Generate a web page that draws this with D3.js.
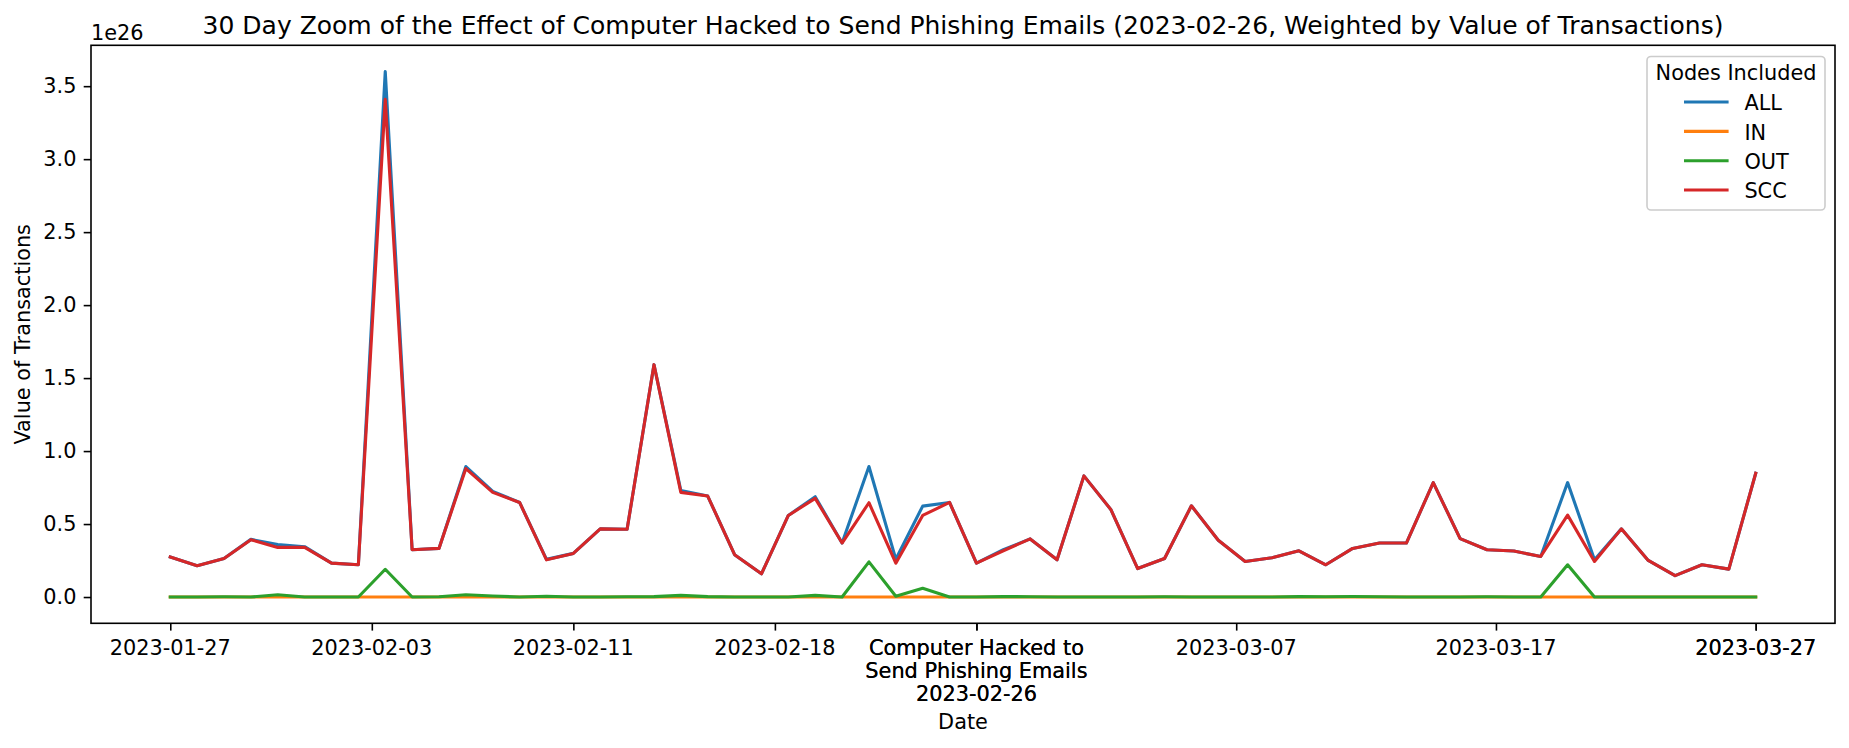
<!DOCTYPE html>
<html><head><meta charset="utf-8">
<script src="https://cdn.jsdelivr.net/npm/d3@7"></script>
<style>
body{margin:0;background:#fff}
text{font-family:"DejaVu Sans",sans-serif;fill:#000}
</style>
</head><body><svg id="chart" width="1849" height="748"></svg>
<script>
// ---- data (values in units of 1e26) ----
const dates = ["2023-01-27","2023-01-28","2023-01-29","2023-01-30","2023-01-31","2023-02-01","2023-02-02","2023-02-03","2023-02-04","2023-02-05",
"2023-02-06","2023-02-07","2023-02-08","2023-02-09","2023-02-10","2023-02-11","2023-02-12","2023-02-13","2023-02-14","2023-02-15",
"2023-02-16","2023-02-17","2023-02-18","2023-02-19","2023-02-20","2023-02-21","2023-02-22","2023-02-23","2023-02-24","2023-02-25",
"2023-02-26","2023-02-27","2023-02-28","2023-03-01","2023-03-02","2023-03-03","2023-03-04","2023-03-05","2023-03-06","2023-03-07",
"2023-03-08","2023-03-09","2023-03-10","2023-03-11","2023-03-12","2023-03-13","2023-03-14","2023-03-15","2023-03-16","2023-03-17",
"2023-03-18","2023-03-19","2023-03-20","2023-03-21","2023-03-22","2023-03-23","2023-03-24","2023-03-25","2023-03-26","2023-03-27"];
const seriesNames = ["ALL","IN","OUT","SCC"];
const seriesColors = ["#1f77b4","#ff7f0e","#2ca02c","#d62728"];
const allValues = [0.274,0.214,0.264,0.395,0.359,0.345,0.232,0.221,3.600,0.324,
0.333,0.894,0.724,0.648,0.258,0.299,0.467,0.464,1.592,0.729,
0.692,0.290,0.159,0.559,0.687,0.370,0.894,0.260,0.623,0.648,
0.232,0.324,0.398,0.255,0.830,0.600,0.195,0.264,0.625,0.389,
0.244,0.269,0.317,0.221,0.333,0.370,0.370,0.784,0.400,0.324,
0.315,0.278,0.784,0.255,0.467,0.251,0.147,0.221,0.191,0.848];
const inValues = [0,0,0,0,0,0,0,0,0,0, 0,0,0,0,0,0,0,0,0,0, 0,0,0,0,0,0,0,0,0,0,
0,0,0,0,0,0,0,0,0,0, 0,0,0,0,0,0,0,0,0,0, 0,0,0,0,0,0,0,0,0,0];
const outValues = [0,0,0.002,0,0.016,0,0,0,0.190,0,
0.002,0.016,0.007,0,0.005,0,0,0.002,0.003,0.011,
0.003,0,0,0,0.011,0,0.241,0.005,0.060,0,
0,0.003,0.002,0,0,0,0,0.002,0,0,
0,0,0.003,0.002,0.004,0.002,0,0,0,0.002,
0,0,0.221,0,0,0,0,0,0,0];
const sccValues = [0.274,0.214,0.264,0.393,0.340,0.340,0.232,0.221,3.410,0.324,
0.333,0.880,0.717,0.648,0.255,0.299,0.467,0.464,1.592,0.717,
0.692,0.290,0.159,0.559,0.676,0.370,0.646,0.232,0.559,0.648,
0.232,0.317,0.398,0.255,0.830,0.600,0.195,0.264,0.625,0.389,
0.244,0.269,0.317,0.221,0.333,0.370,0.370,0.784,0.400,0.324,
0.315,0.278,0.561,0.244,0.467,0.251,0.147,0.221,0.191,0.848];
const yTickValues = [0,0.5,1.0,1.5,2.0,2.5,3.0,3.5];
const xTickPositions = [0,7.5,15,22.5,30,30,39.667,49.333,59,59];
const xTickLabels = ["2023-01-27","2023-02-03","2023-02-11","2023-02-18",
"Computer Hacked to\nSend Phishing Emails\n2023-02-26","Computer Hacked to\nSend Phishing Emails\n2023-02-26",
"2023-03-07","2023-03-17","2023-03-27","2023-03-27"];
const titleText = "30 Day Zoom of the Effect of Computer Hacked to Send Phishing Emails (2023-02-26, Weighted by Value of Transactions)";

// ---- layout ----
const svg = d3.select("#chart");
const L = 91, R = 1835, T = 45.3, B = 623.3;
const fs = 20.83;
const series = [allValues,inValues,outValues,sccValues];

const n = dates.length;
const xPad = (n-1)*0.05;
const x = d3.scaleLinear().domain([-xPad, n-1+xPad]).range([L,R]);
const yMin = d3.min(series.flat()), yMax = d3.max(series.flat());
const yPad = (yMax-yMin)*0.05;
const y = d3.scaleLinear().domain([yMin-yPad, yMax+yPad]).range([B,T]);

// lines
const line = d3.line().x((d,i)=>x(i)).y(d=>y(d));
series.forEach((s,k)=>{
  svg.append("path").datum(s).attr("d",line)
    .attr("fill","none").attr("stroke",seriesColors[k]).attr("stroke-width",3.1)
    .attr("stroke-linejoin","round").attr("stroke-linecap","square");
});

// y axis
const yAxis = svg.append("g").attr("transform",`translate(${L},0)`)
  .call(d3.axisLeft(y).tickValues(yTickValues).tickSize(7.3).tickPadding(7.3).tickFormat(d3.format(".1f")));
yAxis.select(".domain").remove();
yAxis.selectAll(".tick line").attr("stroke","#000").attr("stroke-width",1.6);
yAxis.selectAll(".tick text").attr("font-size",fs).attr("font-family","DejaVu Sans").attr("fill","#000");

// x axis
const xAxis = svg.append("g").attr("transform",`translate(0,${B})`)
  .call(d3.axisBottom(x).tickValues(xTickPositions).tickSize(7.3).tickFormat(""));
xAxis.select(".domain").remove();
xAxis.selectAll(".tick line").attr("stroke","#000").attr("stroke-width",1.6);
xAxis.selectAll(".tick text").remove();
xTickPositions.forEach((p,i)=>{
  const lines = xTickLabels[i].split("\n");
  const t = svg.append("text").attr("x",x(p)).attr("y",655)
    .attr("text-anchor","middle").attr("font-size",fs);
  lines.forEach((ln,j)=>{
    t.append("tspan").attr("x",x(p)).attr("dy", j===0?0:22.8).text(ln);
  });
});

// frame
svg.append("rect").attr("x",L).attr("y",T).attr("width",R-L).attr("height",B-T)
  .attr("fill","none").attr("stroke","#000").attr("stroke-width",1.6);

// texts
svg.append("text").attr("x",(L+R)/2).attr("y",34).attr("text-anchor","middle")
  .attr("font-size",25).text(titleText);
svg.append("text").attr("x",L).attr("y",40).attr("font-size",fs).text("1e26");
svg.append("text").attr("x",(L+R)/2).attr("y",728.5).attr("text-anchor","middle")
  .attr("font-size",fs).text("Date");
svg.append("text").attr("transform",`translate(30,${(T+B)/2}) rotate(-90)`)
  .attr("text-anchor","middle").attr("font-size",fs).text("Value of Transactions");

// legend
const lg = svg.append("g");
lg.append("rect").attr("x",1647).attr("y",56.5).attr("width",1825-1647).attr("height",210-56.5)
  .attr("rx",4).attr("fill","#fff").attr("fill-opacity",0.8)
  .attr("stroke","#cccccc").attr("stroke-width",1.6);
lg.append("text").attr("x",1736).attr("y",80).attr("text-anchor","middle")
  .attr("font-size",fs).text("Nodes Included");
seriesNames.forEach((nm,k)=>{
  const cy = 102 + k*29.35;
  lg.append("line").attr("x1",1684).attr("x2",1728.6).attr("y1",cy).attr("y2",cy)
    .attr("stroke",seriesColors[k]).attr("stroke-width",3.1);
  lg.append("text").attr("x",1744.4).attr("y",cy+8.4).attr("font-size",fs).text(nm);
});
</script>
</body></html>
